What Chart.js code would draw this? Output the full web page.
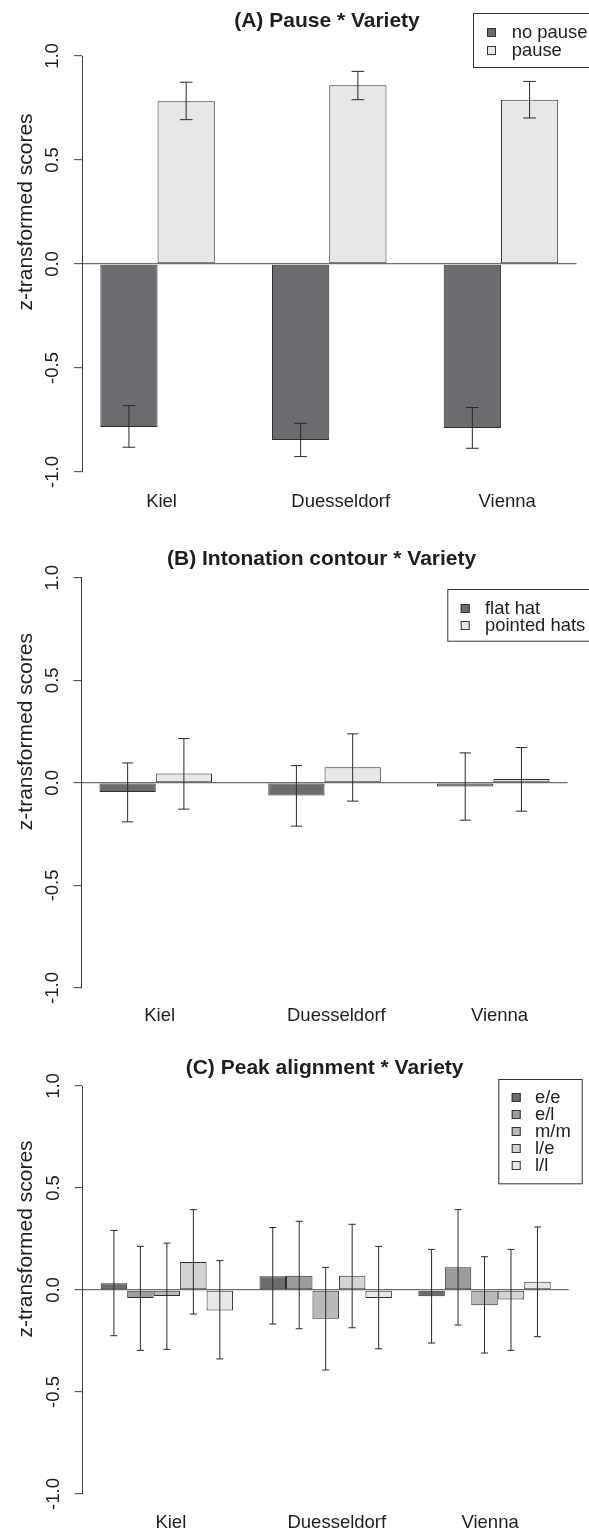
<!DOCTYPE html>
<html>
<head>
<meta charset="utf-8">
<script src="https://cdn.jsdelivr.net/npm/chart.js@4.4.1/dist/chart.umd.min.js"></script>
<style>
  body { margin: 0; background: #fff; }
  canvas { position: absolute; left: 0; }
</style>
</head>
<body>
<canvas id="chartA" width="589" height="510" style="top:0px"></canvas>
<canvas id="chartB" width="589" height="518" style="top:510px"></canvas>
<canvas id="chartC" width="589" height="512" style="top:1020px"></canvas>
<script>
const varieties = ["Kiel", "Duesseldorf", "Vienna"];
const yTicks = [-1, -0.5, 0, 0.5, 1];

// (A) pause
const pauseLabels = ["no pause", "pause"];
const noPauseMean = [-0.784, -0.846, -0.788];
const noPauseLow = [-0.881, -0.926, -0.886];
const noPauseHigh = [-0.681, -0.766, -0.69];
const pauseMean = [0.782, 0.859, 0.79];
const pauseLow = [0.694, 0.79, 0.702];
const pauseHigh = [0.874, 0.926, 0.878];

// (B) intonation contour
const contourLabels = ["flat hat", "pointed hats"];
const flatMean = [-0.045, -0.062, -0.018];
const flatLow = [-0.19, -0.211, -0.182];
const flatHigh = [0.097, 0.084, 0.146];
const pointedMean = [0.045, 0.076, 0.019];
const pointedLow = [-0.128, -0.089, -0.138];
const pointedHigh = [0.216, 0.239, 0.172];

// (C) peak alignment
const peakLabels = ["e/e", "e/l", "m/m", "l/e", "l/l"];
const eeMean = [0.033, 0.067, -0.031];
const eeLow = [-0.224, -0.167, -0.26];
const eeHigh = [0.292, 0.306, 0.199];
const elMean = [-0.039, 0.07, 0.111];
const elLow = [-0.296, -0.19, -0.172];
const elHigh = [0.214, 0.337, 0.394];
const mmMean = [-0.029, -0.141, -0.075];
const mmLow = [-0.291, -0.392, -0.309];
const mmHigh = [0.23, 0.111, 0.163];
const leMean = [0.137, 0.07, -0.047];
const leLow = [-0.118, -0.185, -0.296];
const leHigh = [0.394, 0.322, 0.199];
const llMean = [-0.1, -0.039, 0.041];
const llLow = [-0.338, -0.288, -0.229];
const llHigh = [0.144, 0.214, 0.309];

const font = "'Liberation Sans', Arial, Helvetica, sans-serif";
const ink = "#1e1e1e";
const axisInk = "#3c3c3c";
const zeroInk = "#6e6e6e";
const twoGreys = ["#6b6c70", "#e6e7e9"];
const fiveGreys = ["#6b6c70", "#9b9c9f", "#b8b9bb", "#d2d3d5", "#e6e7e9"];

function decor(opt) {
  return {
    id: "decor",
    afterDatasetsDraw(chart) {
      const ctx = chart.ctx;
      const ys = chart.scales.y;
      const c = opt.cap / 2;
      ctx.save();
      ctx.strokeStyle = "#2a2a2a";
      ctx.lineWidth = 1;
      chart.data.datasets.forEach((ds, i) => {
        chart.getDatasetMeta(i).data.forEach((bar, j) => {
          const x = bar.x;
          const y1 = ys.getPixelForValue(ds.low[j]);
          const y2 = ys.getPixelForValue(ds.high[j]);
          ctx.beginPath();
          ctx.moveTo(x, y1); ctx.lineTo(x, y2);
          ctx.moveTo(x - c, y1); ctx.lineTo(x + c, y1);
          ctx.moveTo(x - c, y2); ctx.lineTo(x + c, y2);
          ctx.stroke();
        });
      });
      ctx.restore();
    },
    afterDraw(chart) {
      const ctx = chart.ctx;
      ctx.save();
      // title
      ctx.fillStyle = ink;
      ctx.font = "bold 21px " + font;
      ctx.textAlign = "center";
      ctx.textBaseline = "alphabetic";
      ctx.fillText(opt.title, opt.titleX, opt.titleY);
      // y axis title, centred where R put it
      ctx.font = "21px " + font;
      ctx.translate(31.5, chart.scales.y.getPixelForValue(0.25));
      ctx.rotate(-Math.PI / 2);
      ctx.fillText("z-transformed scores", 0, 0);
      ctx.restore();

      // legend
      const L = opt.legend;
      ctx.save();
      ctx.strokeStyle = "#333";
      ctx.lineWidth = 1;
      ctx.strokeRect(L.left + 0.5, L.top + 0.5, (L.right || 640) - L.left, L.bottom - L.top);
      ctx.font = "18.4px " + font;
      ctx.textAlign = "left";
      ctx.textBaseline = "middle";
      chart.data.datasets.forEach((ds, i) => {
        const yy = Math.round(L.row0 + i * L.step);
        ctx.fillStyle = ds.backgroundColor;
        ctx.fillRect(L.markX, yy - 4, 9, 9);
        ctx.strokeRect(L.markX + 0.5, yy - 3.5, 8, 8);
        ctx.fillStyle = ink;
        ctx.fillText(ds.label, L.textX, yy + 1);
      });
      ctx.restore();
    }
  };
}

function panel(id, opt) {
  const datasets = opt.series.map((s, i) => ({
    label: opt.labels[i],
    data: s.mean.map((v, j) => ({ x: opt.groupX[j], y: v })),
    low: s.low,
    high: s.high,
    backgroundColor: opt.colors[i],
    borderColor: "#2e2e2e",
    borderWidth: 1,
    borderSkipped: false,
    categoryPercentage: opt.catPct,
    barPercentage: 1,
    xAxisID: "x"
  }));

  new Chart(document.getElementById(id), {
    type: "bar",
    data: { datasets },
    options: {
      responsive: false,
      animation: false,
      devicePixelRatio: 1,
      layout: { padding: { top: opt.area.top, right: 589 - opt.area.right, left: 0, bottom: 0 } },
      plugins: {
        legend: { display: false },
        tooltip: { enabled: false },
        title: { display: false }
      },
      scales: {
        x: {
          type: "linear",
          display: false,
          offset: false,
          min: opt.xMin,
          max: opt.xMax,
          afterBuildTicks: (s) => { s.ticks = opt.groupX.map((v) => ({ value: v })); }
        },
        xl: {
          type: "linear",
          axis: "x",
          position: "bottom",
          offset: false,
          min: opt.xMin,
          max: opt.xMax,
          grid: { display: false },
          border: { display: false },
          afterBuildTicks: (s) => { s.ticks = opt.labelX.map((v) => ({ value: v })); },
          afterFit: (s) => { s.height = opt.height - opt.area.bottom; },
          ticks: {
            autoSkip: false,
            maxRotation: 0,
            padding: opt.labelPad,
            color: ink,
            font: { family: font, size: 18.5 },
            callback: (v, i) => varieties[i]
          }
        },
        y: {
          min: -1,
          max: 1,
          afterBuildTicks: (s) => { s.ticks = yTicks.map((v) => ({ value: v })); },
          afterFit: (s) => { s.width = opt.area.left; },
          border: { display: true, color: axisInk, width: 1 },
          grid: {
            color: (c) => (c.tick && c.tick.value === 0 ? zeroInk : "rgba(0,0,0,0)"),
            lineWidth: 1.3,
            tickColor: axisInk,
            tickWidth: 1,
            tickLength: 8
          },
          ticks: {
            minRotation: 90,
            maxRotation: 90,
            crossAlign: "center",
            padding: 5,
            color: ink,
            font: { family: font, size: 18.5 },
            callback: (v) => v.toFixed(1)
          }
        }
      }
    },
    plugins: [decor(opt)]
  });
}

panel("chartA", {
  height: 510,
  area: { left: 82, right: 576.5, top: 56, bottom: 472 },
  xMin: 0.68, xMax: 9.32,
  groupX: [2, 5, 8],
  labelX: [2.07, 5.2, 8.11],
  catPct: 2 / 3,
  labelPad: 10.5,
  cap: 12.7,
  labels: pauseLabels,
  colors: twoGreys,
  series: [
    { mean: noPauseMean, low: noPauseLow, high: noPauseHigh },
    { mean: pauseMean, low: pauseLow, high: pauseHigh }
  ],
  title: "(A) Pause * Variety",
  titleX: 327, titleY: 26.5,
  legend: { left: 473, top: 13, bottom: 67, markX: 487, textX: 511.7, row0: 32, step: 18 }
});

panel("chartB", {
  height: 518,
  area: { left: 81.5, right: 567.6, top: 67.7, bottom: 478 },
  xMin: 0.68, xMax: 9.32,
  groupX: [2, 5, 8],
  labelX: [2.07, 5.21, 8.11],
  catPct: 2 / 3,
  labelPad: 9,
  cap: 11.3,
  labels: contourLabels,
  colors: twoGreys,
  series: [
    { mean: flatMean, low: flatLow, high: flatHigh },
    { mean: pointedMean, low: pointedLow, high: pointedHigh }
  ],
  title: "(B) Intonation contour * Variety",
  titleX: 321.6, titleY: 55,
  legend: { left: 447.3, top: 79, bottom: 130.7, markX: 460.7, textX: 485, row0: 98.3, step: 16.7 }
});

panel("chartC", {
  height: 512,
  area: { left: 82.7, right: 568.7, top: 66, bottom: 474 },
  xMin: 0.32, xMax: 18.68,
  groupX: [3.5, 9.5, 15.5],
  labelX: [3.65, 9.92, 15.71],
  catPct: 5 / 6,
  labelPad: 9.5,
  cap: 7,
  labels: peakLabels,
  colors: fiveGreys,
  series: [
    { mean: eeMean, low: eeLow, high: eeHigh },
    { mean: elMean, low: elLow, high: elHigh },
    { mean: mmMean, low: mmLow, high: mmHigh },
    { mean: leMean, low: leLow, high: leHigh },
    { mean: llMean, low: llLow, high: llHigh }
  ],
  title: "(C) Peak alignment * Variety",
  titleX: 324.6, titleY: 54,
  legend: { left: 498.3, top: 59, right: 581.7, bottom: 163.3, markX: 511.7, textX: 535, row0: 77.2, step: 17 }
});
</script>
</body>
</html>
